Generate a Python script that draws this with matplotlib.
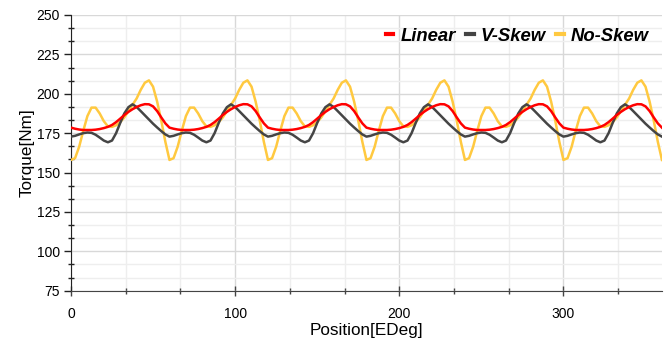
import numpy as np
import matplotlib
matplotlib.use("Agg")
import matplotlib.pyplot as plt
from matplotlib.ticker import MultipleLocator, AutoMinorLocator

plt.rcParams['font.family'] = ['Liberation Sans', 'DejaVu Sans']

# Position in electrical degrees, one sample every 2.5 deg
position = np.arange(0, 360.1, 2.5)

# Torque [Nm], one row per 60 deg period
linear = [
    178.5, 177.8, 177.3, 177.0, 177.0, 177.0, 177.2, 177.6, 178.2, 179.0, 180.2, 182.0,
    184.2, 186.5, 188.5, 190.2, 191.6, 192.7, 193.4, 193.3, 192.0, 189.0, 185.0, 181.2,
    178.5, 177.8, 177.3, 177.0, 177.0, 177.0, 177.2, 177.6, 178.2, 179.0, 180.2, 182.0,
    184.2, 186.5, 188.5, 190.2, 191.6, 192.7, 193.4, 193.3, 192.0, 189.0, 185.0, 181.2,
    178.5, 177.8, 177.3, 177.0, 177.0, 177.0, 177.2, 177.6, 178.2, 179.0, 180.2, 182.0,
    184.2, 186.5, 188.5, 190.2, 191.6, 192.7, 193.4, 193.3, 192.0, 189.0, 185.0, 181.2,
    178.5, 177.8, 177.3, 177.0, 177.0, 177.0, 177.2, 177.6, 178.2, 179.0, 180.2, 182.0,
    184.2, 186.5, 188.5, 190.2, 191.6, 192.7, 193.4, 193.3, 192.0, 189.0, 185.0, 181.2,
    178.5, 177.8, 177.3, 177.0, 177.0, 177.0, 177.2, 177.6, 178.2, 179.0, 180.2, 182.0,
    184.2, 186.5, 188.5, 190.2, 191.6, 192.7, 193.4, 193.3, 192.0, 189.0, 185.0, 181.2,
    178.5, 177.8, 177.3, 177.0, 177.0, 177.0, 177.2, 177.6, 178.2, 179.0, 180.2, 182.0,
    184.2, 186.5, 188.5, 190.2, 191.6, 192.7, 193.4, 193.3, 192.0, 189.0, 185.0, 181.2,
    178.5,
]
v_skew = [
    172.8, 173.3, 174.2, 175.0, 175.4, 175.2, 174.0, 172.2, 170.3, 169.2, 170.3, 175.0,
    181.5, 187.5, 191.5, 193.3, 191.6, 189.0, 186.3, 183.6, 181.0, 178.6, 176.3, 174.2,
    172.8, 173.3, 174.2, 175.0, 175.4, 175.2, 174.0, 172.2, 170.3, 169.2, 170.3, 175.0,
    181.5, 187.5, 191.5, 193.3, 191.6, 189.0, 186.3, 183.6, 181.0, 178.6, 176.3, 174.2,
    172.8, 173.3, 174.2, 175.0, 175.4, 175.2, 174.0, 172.2, 170.3, 169.2, 170.3, 175.0,
    181.5, 187.5, 191.5, 193.3, 191.6, 189.0, 186.3, 183.6, 181.0, 178.6, 176.3, 174.2,
    172.8, 173.3, 174.2, 175.0, 175.4, 175.2, 174.0, 172.2, 170.3, 169.2, 170.3, 175.0,
    181.5, 187.5, 191.5, 193.3, 191.6, 189.0, 186.3, 183.6, 181.0, 178.6, 176.3, 174.2,
    172.8, 173.3, 174.2, 175.0, 175.4, 175.2, 174.0, 172.2, 170.3, 169.2, 170.3, 175.0,
    181.5, 187.5, 191.5, 193.3, 191.6, 189.0, 186.3, 183.6, 181.0, 178.6, 176.3, 174.2,
    172.8, 173.3, 174.2, 175.0, 175.4, 175.2, 174.0, 172.2, 170.3, 169.2, 170.3, 175.0,
    181.5, 187.5, 191.5, 193.3, 191.6, 189.0, 186.3, 183.6, 181.0, 178.6, 176.3, 174.2,
    172.8,
]
no_skew = [
    158.0, 159.1, 166.4, 176.5, 185.8, 191.2, 191.2, 187.5, 182.6, 179.3, 179.0, 180.0,
    182.0, 185.0, 189.0, 193.0, 197.0, 202.5, 207.0, 208.5, 204.5, 195.0, 183.0, 169.5,
    158.0, 159.1, 166.4, 176.5, 185.8, 191.2, 191.2, 187.5, 182.6, 179.3, 179.0, 180.0,
    182.0, 185.0, 189.0, 193.0, 197.0, 202.5, 207.0, 208.5, 204.5, 195.0, 183.0, 169.5,
    158.0, 159.1, 166.4, 176.5, 185.8, 191.2, 191.2, 187.5, 182.6, 179.3, 179.0, 180.0,
    182.0, 185.0, 189.0, 193.0, 197.0, 202.5, 207.0, 208.5, 204.5, 195.0, 183.0, 169.5,
    158.0, 159.1, 166.4, 176.5, 185.8, 191.2, 191.2, 187.5, 182.6, 179.3, 179.0, 180.0,
    182.0, 185.0, 189.0, 193.0, 197.0, 202.5, 207.0, 208.5, 204.5, 195.0, 183.0, 169.5,
    158.0, 159.1, 166.4, 176.5, 185.8, 191.2, 191.2, 187.5, 182.6, 179.3, 179.0, 180.0,
    182.0, 185.0, 189.0, 193.0, 197.0, 202.5, 207.0, 208.5, 204.5, 195.0, 183.0, 169.5,
    158.0, 159.1, 166.4, 176.5, 185.8, 191.2, 191.2, 187.5, 182.6, 179.3, 179.0, 180.0,
    182.0, 185.0, 189.0, 193.0, 197.0, 202.5, 207.0, 208.5, 204.5, 195.0, 183.0, 169.5,
    158.0,
]

fig = plt.figure(figsize=(6.67, 3.43), dpi=100)
ax = fig.add_axes([0.1064, 0.1525, 0.886, 0.8038])

# yellow underneath, red on top
l3, = ax.plot(position, no_skew, color='#ffc940', lw=1.8, zorder=3, label='No-Skew')
l2, = ax.plot(position, v_skew, color='#454545', lw=1.8, zorder=4, label='V-Skew')
l1, = ax.plot(position, linear, color='#ff0000', lw=1.8, zorder=5, label='Linear')

ax.set_xlim(0, 360)
ax.set_ylim(75, 250)
ax.xaxis.set_major_locator(MultipleLocator(100))
ax.xaxis.set_minor_locator(AutoMinorLocator(3))
ax.yaxis.set_major_locator(MultipleLocator(25))
ax.yaxis.set_minor_locator(AutoMinorLocator(3))

ax.grid(which='major', color='#d8d8d8', lw=1.0, zorder=0)
ax.grid(which='minor', color='#eeeeee', lw=1.0, zorder=0)
ax.set_axisbelow(True)

for s in ['top', 'right']:
    ax.spines[s].set_visible(False)
ax.spines['left'].set_color('#222222')
ax.spines['bottom'].set_color('#444444')

ax.tick_params(axis='y', which='major', direction='out', length=5, width=1, labelsize=10, color='#222222', pad=3)
ax.tick_params(axis='y', which='minor', direction='inout', length=4, width=1, color='#222222')
ax.tick_params(axis='x', which='major', direction='inout', length=7, width=1, labelsize=10, color='#444444', pad=8)
ax.tick_params(axis='x', which='minor', direction='inout', length=4, width=1, color='#444444')

ax.set_xlabel("Position[EDeg]", fontsize=12.3, labelpad=2)
ax.set_ylabel("Torque[Nm]", fontsize=12.3, labelpad=1)

leg = ax.legend(handles=[l1, l2, l3], loc='upper right', ncol=3, frameon=False,
                handlelength=0.4, handletextpad=0.4, columnspacing=0.55,
                bbox_to_anchor=(1.0, 1.0), borderaxespad=0.3,
                prop={'weight': 'bold', 'style': 'italic', 'size': 13.3})
for h in leg.get_lines():
    h.set_linewidth(3)

fig.savefig("out.png", dpi=100)
